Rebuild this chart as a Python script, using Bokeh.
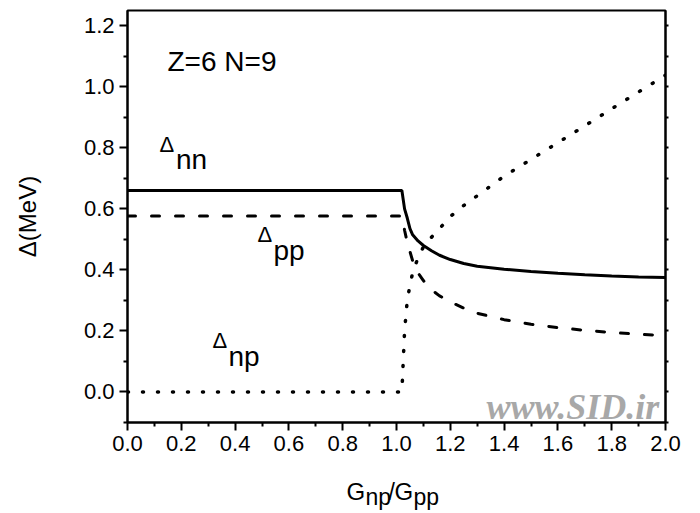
from bokeh.plotting import figure
from bokeh.layouts import column
from bokeh.models import Label, FixedTicker, PrintfTickFormatter, LinearAxis, Range1d
from bokeh.embed import file_html
from bokeh.resources import INLINE

# ---- data ----
g_nn = [0.0, 1.02, 1.03, 1.04, 1.05, 1.06, 1.08, 1.10, 1.13, 1.16, 1.20, 1.25,
        1.30, 1.40, 1.50, 1.60, 1.70, 1.80, 1.90, 2.00]
delta_nn = [0.660, 0.660, 0.600, 0.570, 0.535, 0.515, 0.495, 0.480, 0.463, 0.448,
            0.434, 0.421, 0.412, 0.402, 0.395, 0.389, 0.384, 0.380, 0.377, 0.375]

g_pp = [0.0, 1.02, 1.03, 1.04, 1.06, 1.08, 1.10, 1.13, 1.16, 1.20, 1.25, 1.30,
        1.40, 1.50, 1.60, 1.70, 1.80, 1.90, 2.00]
delta_pp = [0.577, 0.577, 0.530, 0.490, 0.430, 0.390, 0.365, 0.335, 0.315, 0.295,
            0.275, 0.258, 0.237, 0.222, 0.211, 0.202, 0.195, 0.189, 0.185]

g_np = [0.0, 1.02, 1.025, 1.03, 1.04, 1.05, 1.06, 1.08, 1.10, 1.13, 1.16, 1.20,
        1.25, 1.30, 1.40, 1.50, 1.60, 1.70, 1.80, 1.90, 2.00]
delta_np = [0.0, 0.0, 0.10, 0.20, 0.30, 0.35, 0.39, 0.44, 0.475, 0.507, 0.535,
            0.575, 0.611, 0.643, 0.707, 0.762, 0.817, 0.872, 0.928, 0.983, 1.038]

x_ticks = [0.0, 0.2, 0.4, 0.6, 0.8, 1.0, 1.2, 1.4, 1.6, 1.8, 2.0]
x_minor = [0.1, 0.3, 0.5, 0.7, 0.9, 1.1, 1.3, 1.5, 1.7, 1.9]
y_ticks = [0.0, 0.2, 0.4, 0.6, 0.8, 1.0, 1.2]
y_minor = [-0.1, 0.1, 0.3, 0.5, 0.7, 0.9, 1.1]

FONT = "Liberation Sans"
W = 695
FRAME_L, FRAME_T, FRAME_W, FRAME_H = 127, 10, 538, 412
MAIN_H = 470
SHIFT = 9  # correction between requested and rendered baseline

p = figure(width=W, height=MAIN_H, x_range=Range1d(0, 2.0), y_range=Range1d(-0.1, 1.25),
           output_backend="svg", toolbar_location=None,
           min_border_left=FRAME_L, min_border_right=W - FRAME_L - FRAME_W,
           min_border_top=FRAME_T, min_border_bottom=MAIN_H - FRAME_T - FRAME_H)
p.grid.visible = False
p.outline_line_color = "black"
p.outline_line_width = 2
p.background_fill_color = "white"
p.border_fill_color = "white"

for ax, ticks, minor in ((p.xaxis[0], x_ticks, x_minor), (p.yaxis[0], y_ticks, y_minor)):
    ax.ticker = FixedTicker(ticks=ticks, minor_ticks=minor)
    ax.formatter = PrintfTickFormatter(format="%.1f")
    ax.axis_line_width = 2
    ax.axis_line_color = "black"
    ax.major_tick_in = 0
    ax.major_tick_out = 8
    ax.minor_tick_in = 0
    ax.minor_tick_out = 4
    ax.major_tick_line_width = 2
    ax.minor_tick_line_width = 2
    ax.major_tick_line_color = "black"
    ax.minor_tick_line_color = "black"
    ax.major_label_text_font = FONT
    ax.major_label_text_font_size = "22px"
    ax.major_label_text_color = "black"
    ax.major_label_standoff = 5

p.yaxis.axis_label = "Δ(MeV)"
p.yaxis.axis_label_text_font = FONT
p.yaxis.axis_label_text_font_size = "24px"
p.yaxis.axis_label_text_font_style = "normal"
p.yaxis.axis_label_text_color = "black"
p.yaxis.axis_label_standoff = 40

rticks = sorted(y_ticks + y_minor)
rax = LinearAxis(ticker=FixedTicker(ticks=rticks),
                 major_tick_in=0, major_tick_out=3, minor_tick_out=0, minor_tick_in=0,
                 major_label_overrides={t: "" for t in rticks}, major_label_standoff=0,
                 axis_line_width=2, major_tick_line_width=2)
p.add_layout(rax, "right")

# curves
p.line(g_nn, delta_nn, line_color="black", line_width=3)
p.line(g_pp, delta_pp, line_color="black", line_width=3, line_dash="8 16", line_cap="round")
p.line(g_np, delta_np, line_color="black", line_width=3.5, line_dash="1 14", line_cap="round")


def dx(px):
    return (px - FRAME_L) * 2.0 / FRAME_W


def dy(py):
    return 1.25 - (py - SHIFT - FRAME_T) * 1.35 / FRAME_H


def lab(fig, text, x, y, size, font=FONT, style="normal", color="black"):
    fig.add_layout(Label(x=x, y=y, text=text, text_font=font,
                         text_font_size=size, text_font_style=style, text_color=color,
                         text_align="left", text_baseline="alphabetic"))


lab(p, "Z=6 N=9", dx(167), dy(70), "28px")
lab(p, "Δ", dx(159), dy(153), "22px")
lab(p, "nn", dx(175.5), dy(168), "28px")
lab(p, "Δ", dx(257), dy(243), "22px")
lab(p, "pp", dx(273), dy(259), "28px")
lab(p, "Δ", dx(212), dy(349), "22px")
lab(p, "np", dx(228), dy(365), "28px")

# watermark
lab(p, "www.SID.ir", dx(486), dy(415), "36px", font="Liberation Serif",
    style="bold italic", color="#a8a8a8")

# x-axis title  G_np / G_pp  in a strip below the plot; its frame is aligned
# with the main frame by the column layout, so it shares the x range.
TH = 40
t = figure(width=W, height=TH, x_range=Range1d(0, 2.0), y_range=Range1d(TH, 0),
           output_backend="svg", toolbar_location=None,
           x_axis_location=None, y_axis_location=None,
           min_border_left=FRAME_L, min_border_right=W - FRAME_L - FRAME_W,
           min_border_top=0, min_border_bottom=0)
t.grid.visible = False
t.outline_line_color = None
t.background_fill_color = "white"
t.border_fill_color = "white"


def sy(py):
    return py - MAIN_H - SHIFT


lab(t, "G", dx(346), sy(500), "24px")
lab(t, "np", dx(365), sy(505), "23px")
lab(t, "/", dx(388), sy(500), "23px")
lab(t, "G", dx(394), sy(500), "24px")
lab(t, "pp", dx(413), sy(505), "23px")

layout = column(p, t, spacing=0)
open("out.html", "w").write(file_html(layout, INLINE))
